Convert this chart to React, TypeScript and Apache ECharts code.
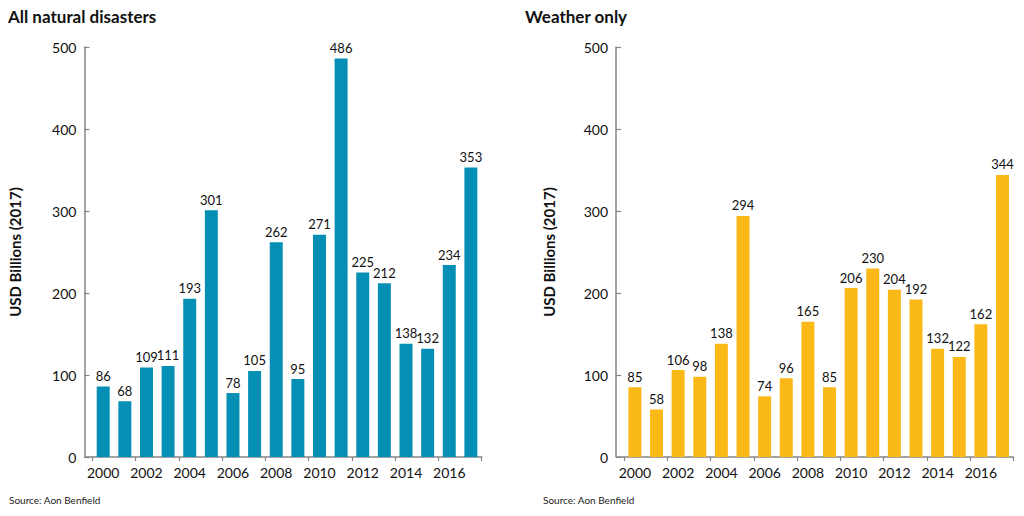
import React, { useEffect, useRef } from "react";
import * as echarts from "echarts";

const years = ["2000","2001","2002","2003","2004","2005","2006","2007","2008","2009","2010","2011","2012","2013","2014","2015","2016","2017"];
const allDisasters = [86, 68, 109, 111, 193, 301, 78, 105, 262, 95, 271, 486, 225, 212, 138, 132, 234, 353];
const weatherOnly = [85, 58, 106, 98, 138, 294, 74, 96, 165, 85, 206, 230, 204, 192, 132, 122, 162, 344];
const titles = ["All natural disasters", "Weather only"];
const yAxisName = "USD Billions (2017)";
const sourceText = "Source: Aon Benfield";

const FONT = "Lato, 'Open Sans', sans-serif";
const AXIS_COLOR = "#858585";
const COLORS = ["#068fb4", "#fbb918"];

export default function App() {
  const ref = useRef<HTMLDivElement>(null);
  useEffect(() => {
    document.body.style.margin = "0";
    const chart = echarts.init(ref.current!, null, { renderer: "svg" });
    const grids = [
      { left: 92.4, top: 47, width: 389.3, height: 410 },
      { left: 624.1, top: 47, width: 389.2, height: 410 },
    ];
    const mkX = (i: number) => ({
      type: "category",
      gridIndex: i,
      data: years,
      axisLine: { lineStyle: { color: AXIS_COLOR, width: 1.5 } },
      axisTick: { show: true, length: 4, lineStyle: { color: AXIS_COLOR, width: 1.2 } },
      axisLabel: { interval: 1, color: "#111", fontSize: 14, fontFamily: FONT, margin: 8 },
    });
    const mkY = (i: number, gap: number) => ({
      type: "value",
      gridIndex: i,
      min: 0,
      max: 500,
      interval: 100,
      offset: 8,
      name: yAxisName,
      nameLocation: "middle",
      nameGap: gap,
      nameTextStyle: { fontSize: 15, fontWeight: "bold", color: "#111", fontFamily: FONT },
      splitLine: { show: false },
      axisLine: { show: true, lineStyle: { color: AXIS_COLOR, width: 1.5 } },
      axisTick: { show: true, inside: true, length: 5, lineStyle: { color: AXIS_COLOR, width: 1.2 } },
      axisLabel: { color: "#111", fontSize: 14, fontFamily: FONT, margin: 8 },
    });
    const mkSeries = (i: number, data: number[]) => ({
      type: "bar",
      xAxisIndex: i,
      yAxisIndex: i,
      data,
      barWidth: "60%",
      itemStyle: { color: COLORS[i] },
      label: { show: true, position: "top", distance: 4, color: "#111", fontSize: 13, fontFamily: FONT },
    });
    chart.setOption({
      animation: false,
      textStyle: { fontFamily: FONT },
      grid: grids,
      xAxis: [mkX(0), mkX(1)],
      yAxis: [mkY(0, 62), mkY(1, 60)],
      series: [mkSeries(0, allDisasters), mkSeries(1, weatherOnly)],
      graphic: [
        { type: "text", left: 8, top: 8, style: { text: titles[0], fontSize: 17, fontWeight: "bold", fill: "#111", fontFamily: FONT } },
        { type: "text", left: 525, top: 8, style: { text: titles[1], fontSize: 17, fontWeight: "bold", fill: "#111", fontFamily: FONT } },
        { type: "text", left: 9, top: 495, style: { text: sourceText, fontSize: 10, fill: "#222", fontFamily: FONT } },
        { type: "text", left: 543, top: 495, style: { text: sourceText, fontSize: 10, fill: "#222", fontFamily: FONT } },
        { type: "line", shape: { x1: 84.4, y1: 457, x2: 92.4, y2: 457 }, style: { stroke: AXIS_COLOR, lineWidth: 1.5 } },
        { type: "line", shape: { x1: 616.1, y1: 457, x2: 624.1, y2: 457 }, style: { stroke: AXIS_COLOR, lineWidth: 1.5 } },
      ],
    });
    return () => chart.dispose();
  }, []);
  return <div ref={ref} style={{ position: "absolute", left: 0, top: 0, width: 1024, height: 516 }} />;
}
